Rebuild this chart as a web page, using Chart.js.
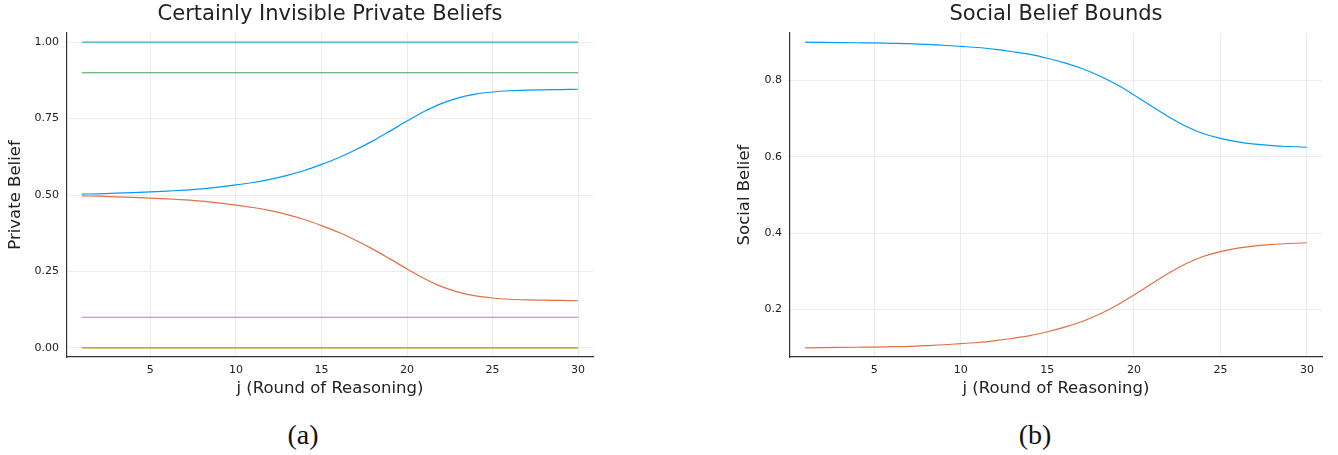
<!DOCTYPE html>
<html lang="en">
<head>
  <meta charset="UTF-8" />
  <title>Private and Social Beliefs</title>
  <script src="https://cdn.jsdelivr.net/npm/chart.js"></script>
  <style>
    * { margin: 0; padding: 0; box-sizing: border-box; }
    body { width: 1338px; height: 455px; background: #fff; position: relative; overflow: hidden; font-family: 'DejaVu Sans', sans-serif; color: #222; }
    .panel { position: absolute; top: 0; }
    .title { position: absolute; top: 0; font-size: 21px; line-height: 26px; text-align: center; white-space: nowrap; }
    .caption { position: absolute; top: 419px; width: 100px; font-family: 'Liberation Serif', serif; font-size: 28px; line-height: 32px; text-align: center; color: #111; }
  </style>
</head>
<body>
  <canvas id="privateChart" class="panel" width="600" height="400" style="left:0"></canvas>
  <canvas id="socialChart" class="panel" width="608" height="400" style="left:730px"></canvas>
  <div class="title" style="left:67px;width:526px">Certainly Invisible Private Beliefs</div>
  <div class="title" style="left:790px;width:532px">Social Belief Bounds</div>
  <div class="caption" style="left:253px">(a)</div>
  <div class="caption" style="left:985px">(b)</div>

  <script>
    // rounds of reasoning j
    const rounds = [1, 2, 3, 4, 5, 6, 7, 8, 9, 10, 11, 12, 13, 14, 15,
                    16, 17, 18, 19, 20, 21, 22, 23, 24, 25, 26, 27, 28, 29, 30];

    // (a) private beliefs
    const privateUpper = [0.503, 0.504, 0.506, 0.508, 0.510, 0.513, 0.516, 0.520, 0.526, 0.533,
                          0.541, 0.551, 0.564, 0.580, 0.600, 0.622, 0.648, 0.677, 0.709, 0.742,
                          0.773, 0.799, 0.818, 0.830, 0.837, 0.841, 0.843, 0.844, 0.845, 0.846];
    const privateLower = [0.497, 0.496, 0.494, 0.492, 0.490, 0.487, 0.484, 0.480, 0.474, 0.467,
                          0.459, 0.449, 0.436, 0.420, 0.400, 0.378, 0.352, 0.323, 0.291, 0.258,
                          0.227, 0.201, 0.182, 0.170, 0.163, 0.159, 0.157, 0.156, 0.155, 0.154];
    const privateLevels = [0.9, 0.1, 0.0, 1.0];   // flat lines
    const privateLevelColors = ['#3EA44E', '#C371D2', '#AC8E18', '#66CCCC'];

    // (b) social belief bounds
    const socialUpper = [0.900, 0.8995, 0.899, 0.8985, 0.898, 0.897, 0.896, 0.894, 0.892, 0.889,
                         0.886, 0.881, 0.875, 0.868, 0.858, 0.846, 0.831, 0.812, 0.789, 0.762,
                         0.733, 0.705, 0.680, 0.661, 0.648, 0.639, 0.633, 0.629, 0.627, 0.625];
    const socialLower = [0.100, 0.1005, 0.101, 0.1015, 0.102, 0.103, 0.104, 0.106, 0.108, 0.111,
                         0.114, 0.119, 0.125, 0.132, 0.142, 0.154, 0.169, 0.188, 0.211, 0.238,
                         0.267, 0.295, 0.320, 0.339, 0.352, 0.361, 0.367, 0.371, 0.373, 0.375];

    const xTicks = [5, 10, 15, 20, 25, 30];
    const privateTicks = [0, 0.25, 0.5, 0.75, 1.0];
    const socialTicks = [0.2, 0.4, 0.6, 0.8];

    const blue = '#009AFA';
    const red = '#E36F47';
    const font = 'DejaVu Sans';

    function pts(values) {
      return rounds.map((j, i) => ({ x: j, y: values[i] }));
    }

    function line(values, color, width) {
      return {
        data: pts(values),
        borderColor: color,
        borderWidth: width || 1.2,
        pointRadius: 0,
        cubicInterpolationMode: 'monotone',
        fill: false
      };
    }

    function makeChart(id, datasets, opts) {
      return new Chart(document.getElementById(id), {
        type: 'line',
        data: { datasets: datasets },
        options: {
          responsive: false,
          animation: false,
          layout: { padding: { left: 0, right: opts.padRight, top: 33, bottom: 0 } },
          plugins: { legend: { display: false }, tooltip: { enabled: false } },
          scales: {
            x: {
              type: 'linear',
              min: 0.13,
              max: 30.87,
              afterBuildTicks: s => { s.ticks = xTicks.map(v => ({ value: v })); },
              afterFit: s => { s.height = 43; },
              grid: { color: '#ececec', lineWidth: 1, drawTicks: false },
              border: { color: '#333', width: 1.2 },
              ticks: { padding: 7, color: '#222', font: { family: font, size: 11 }, maxRotation: 0 },
              title: {
                display: true,
                text: 'j (Round of Reasoning)',
                color: '#222',
                font: { family: font, size: 16.5 },
                padding: { top: 0, bottom: 1 }
              }
            },
            y: {
              min: opts.yMin,
              max: opts.yMax,
              afterBuildTicks: s => { s.ticks = opts.yTicks.map(v => ({ value: v })); },
              afterFit: s => { s.width = opts.axisWidth; },
              grid: { color: '#ececec', lineWidth: 1, drawTicks: false },
              border: { color: '#333', width: 1.2 },
              ticks: {
                padding: 8,
                color: '#222',
                font: { family: font, size: 11 },
                callback: v => v.toFixed(opts.digits)
              },
              title: {
                display: true,
                text: opts.yTitle,
                color: '#222',
                font: { family: font, size: 16.5 },
                padding: { top: opts.titlePad, bottom: 0 }
              }
            }
          }
        }
      });
    }

    // (a)
    const privateSets = [line(privateUpper, blue), line(privateLower, red)];
    privateLevels.forEach((lvl, k) => {
      privateSets.push(line(rounds.map(() => lvl), privateLevelColors[k], k === 3 ? 2 : 1.2));
    });
    makeChart('privateChart', privateSets, {
      padRight: 7, axisWidth: 67, titlePad: 6,
      yMin: -0.03, yMax: 1.03, yTicks: privateTicks, digits: 2,
      yTitle: 'Private Belief'
    });

    // (b)
    makeChart('socialChart', [line(socialUpper, blue), line(socialLower, red)], {
      padRight: 16, axisWidth: 60, titlePad: 5,
      yMin: 0.076, yMax: 0.924, yTicks: socialTicks, digits: 1,
      yTitle: 'Social Belief'
    });
  </script>
</body>
</html>
